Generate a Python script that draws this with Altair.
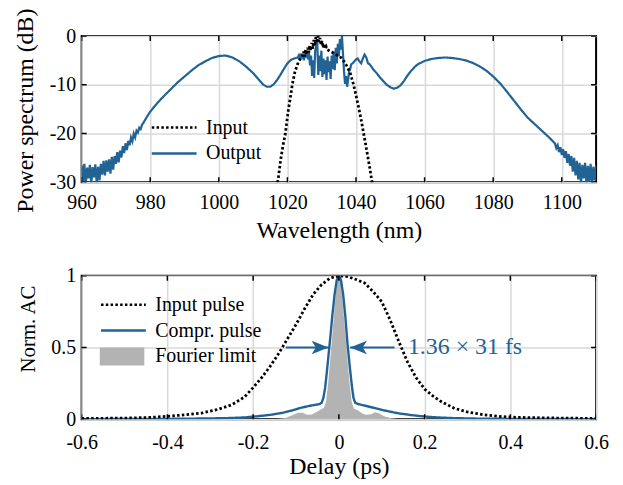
import altair as alt
import pandas as pd

SERIF = "Liberation Serif"
BLUE = "#216394"
GRAY = "#b3b3b3"

# ---------------- top panel data ----------------
wl_out = [
    960.0, 960.4, 960.8, 961.2, 961.6, 962.0, 962.4, 962.8, 963.2, 963.6,
    964.0, 964.4, 964.8, 965.2, 965.6, 966.0, 966.4, 966.8, 967.2, 967.6,
    968.0, 968.4, 968.8, 969.2, 969.6, 970.0, 970.4, 970.8, 971.2, 971.6,
    972.0, 972.4, 972.8, 973.2, 973.6, 974.0, 974.4, 974.8, 975.2, 975.6,
    976.0, 976.4, 976.8, 977.2, 977.6, 978.0, 979.0, 980.0, 982.0, 984.0,
    986.0, 988.0, 990.0, 992.0, 994.0, 996.0, 998.0, 1000.0, 1002.0, 1004.0,
    1006.0, 1008.0, 1010.0, 1012.0, 1013.0, 1014.0, 1015.0, 1016.0, 1017.0, 1018.0,
    1019.0, 1020.0, 1021.0, 1022.0, 1023.0, 1023.3, 1023.6, 1023.9, 1024.2, 1024.5,
    1024.8, 1025.1, 1025.4, 1025.7, 1026.0, 1026.3, 1026.6, 1026.9, 1027.2, 1027.5,
    1027.8, 1028.1, 1028.4, 1028.7, 1029.0, 1029.3, 1029.6, 1029.9, 1030.2, 1030.5,
    1030.8, 1031.1, 1031.4, 1031.7, 1032.0, 1032.3, 1032.6, 1032.9, 1033.2, 1033.5,
    1033.8, 1034.1, 1034.4, 1034.7, 1035.0, 1035.3, 1035.6, 1035.9, 1036.2, 1036.5,
    1036.8, 1037.1, 1037.4, 1037.7, 1038.0, 1038.3, 1038.6, 1039.0, 1039.5, 1040.0,
    1040.5, 1041.0, 1041.5, 1042.0, 1042.5, 1043.0, 1043.5, 1044.0, 1045.0, 1046.0,
    1047.0, 1048.0, 1049.0, 1050.0, 1051.0, 1052.0, 1053.0, 1054.0, 1055.0, 1056.0,
    1057.0, 1058.0, 1060.0, 1062.0, 1064.0, 1066.0, 1068.0, 1070.0, 1072.0, 1074.0,
    1076.0, 1078.0, 1080.0, 1082.0, 1084.0, 1086.0, 1088.0, 1090.0, 1092.0, 1094.0,
    1096.0, 1098.0, 1098.4, 1098.8, 1099.2, 1099.6, 1100.0, 1100.4, 1100.8, 1101.2,
    1101.6, 1102.0, 1102.4, 1102.8, 1103.2, 1103.6, 1104.0, 1104.4, 1104.8, 1105.2,
    1105.6, 1106.0, 1106.4, 1106.8, 1107.2, 1107.6, 1108.0, 1108.4, 1108.8, 1109.2,
    1109.6, 1110.0,
]
db_out = [
    -26.5, -29.8, -26.2, -30.5, -27.0, -29.2, -26.4, -30.4, -26.9, -29.0,
    -26.3, -30.3, -26.8, -29.6, -26.2, -28.4, -25.6, -28.6, -25.5, -27.8,
    -25.3, -28.2, -24.8, -27.4, -24.6, -26.2, -23.8, -25.9, -23.5, -24.9,
    -22.6, -24.0, -22.0, -23.4, -21.5, -22.4, -20.8, -21.6, -20.0, -20.8,
    -19.4, -19.8, -18.8, -19.1, -18.2, -17.8, -16.6, -15.5, -13.8, -12.3,
    -10.9, -9.5, -8.3, -7.1, -6.0, -5.2, -4.5, -4.1, -4.0, -4.4,
    -5.2, -6.3, -7.6, -9.2, -10.0, -10.4, -10.4, -9.9, -9.0, -7.9,
    -6.7, -5.6, -4.9, -4.6, -4.4, -4.0, -4.8, -3.6, -4.6, -3.8,
    -5.0, -3.6, -4.4, -3.2, -4.8, -3.4, -6.0, -4.0, -8.2, -5.0,
    -8.6, -3.0, -2.0, -1.2, -8.0, -4.0, -7.2, -3.0, -8.4, -4.6,
    -7.8, -5.0, -9.0, -4.2, -7.4, -5.2, -8.8, -4.0, -6.8, -3.2,
    -7.0, -2.4, -5.6, -1.6, -4.2, -0.6, -2.8, 0.0, -3.6, -7.2,
    -9.8, -8.2, -10.4, -9.0, -7.2, -6.8, -5.8, -5.6, -5.2, -4.8,
    -4.6, -5.2, -5.6, -4.6, -3.8, -4.4, -5.6, -5.8, -6.8, -7.6,
    -8.5, -9.3, -10.0, -10.5, -10.8, -10.6, -10.1, -9.2, -8.1, -7.2,
    -6.4, -5.8, -5.1, -4.7, -4.5, -4.4, -4.5, -4.7, -5.0, -5.5,
    -6.2, -7.1, -8.3, -9.7, -11.4, -13.2, -15.0, -16.7, -18.0, -19.3,
    -20.6, -22.0, -23.0, -22.4, -23.8, -22.8, -24.4, -23.2, -25.0, -23.6,
    -26.0, -24.2, -26.6, -24.6, -27.8, -25.0, -28.6, -25.6, -29.4, -26.0,
    -30.4, -26.4, -29.2, -26.0, -30.5, -26.6, -29.8, -26.2, -30.4, -26.8,
    -29.6, -26.5,
]

wl_in = [
    1016.8, 1017.3, 1018.0, 1018.7, 1019.4, 1020.2, 1021.0, 1021.4, 1022.2, 1023.2,
    1024.4, 1024.7, 1025.0, 1025.3, 1025.6, 1025.9, 1026.2, 1026.5, 1026.8, 1027.1,
    1027.4, 1027.7, 1028.0, 1028.3, 1028.6, 1028.9, 1029.2, 1029.5, 1029.8, 1030.1,
    1030.4, 1030.7, 1031.0, 1031.3, 1031.6, 1032.2, 1033.2, 1034.4, 1035.6, 1036.6,
    1037.6, 1038.4, 1039.1, 1039.9, 1040.6, 1041.4, 1042.1, 1042.8, 1043.5, 1044.0,
    1044.5, 1044.8,
]
db_in = [
    -31.0, -29.4, -25.5, -22.5, -20.0, -15.5, -12.0, -10.0, -7.3, -5.3,
    -4.0, -3.2, -4.2, -2.8, -3.8, -2.4, -3.4, -2.0, -3.0, -1.4,
    -2.6, -0.8, -2.0, -0.2, -1.4, 0.0, -1.2, -0.4, -1.8, -1.0,
    -2.4, -1.6, -2.6, -2.2, -2.8, -3.0, -3.4, -3.9, -4.4, -5.3,
    -6.5, -7.8, -9.5, -11.8, -14.1, -16.8, -19.5, -22.2, -25.0, -27.0,
    -29.2, -30.5,
]

top_series = ["Input", "Output"]
wl_ticks = [960, 980, 1000, 1020, 1040, 1060, 1080, 1100]
db_ticks = [-30, -20, -10, 0]

# ---------------- bottom panel data ----------------
d_in = [
    -0.60, -0.50, -0.44, -0.40, -0.36, -0.32, -0.28, -0.25, -0.22, -0.20,
    -0.18, -0.16, -0.14, -0.12, -0.10, -0.08, -0.06, -0.04, -0.02, 0.00,
    0.02, 0.04, 0.06, 0.08, 0.10, 0.12, 0.14, 0.16, 0.18, 0.20,
    0.22, 0.24, 0.27, 0.30, 0.34, 0.38, 0.42, 0.50, 0.60,
]
v_in = [
    0.005, 0.007, 0.012, 0.02, 0.03, 0.042, 0.07, 0.10, 0.155, 0.22,
    0.29, 0.37, 0.46, 0.56, 0.66, 0.77, 0.87, 0.94, 0.985, 1.0,
    0.995, 0.975, 0.95, 0.89, 0.82, 0.69, 0.54, 0.40, 0.29, 0.21,
    0.16, 0.12, 0.075, 0.05, 0.03, 0.018, 0.012, 0.008, 0.005,
]

d_cp = [
    -0.60, -0.40, -0.30, -0.25, -0.22, -0.19, -0.16, -0.13, -0.11, -0.09,
    -0.07, -0.055, -0.045, -0.04, -0.036, -0.032, -0.028, -0.024, -0.02, -0.015,
    -0.01, -0.005, 0.0, 0.005, 0.01, 0.015, 0.02, 0.025, 0.03, 0.034,
    0.038, 0.045, 0.06, 0.08, 0.10, 0.12, 0.14, 0.17, 0.20, 0.23,
    0.27, 0.32, 0.40, 0.60,
]
v_cp = [
    0.0, 0.002, 0.005, 0.008, 0.012, 0.02, 0.03, 0.045, 0.06, 0.078,
    0.092, 0.10, 0.105, 0.115, 0.15, 0.22, 0.33, 0.45, 0.57, 0.73,
    0.87, 0.97, 1.0, 0.97, 0.87, 0.72, 0.53, 0.38, 0.24, 0.15,
    0.115, 0.105, 0.095, 0.08, 0.065, 0.052, 0.04, 0.028, 0.018, 0.012,
    0.007, 0.004, 0.002, 0.0,
]

d_fl = [
    -0.60, -0.15, -0.125, -0.11, -0.095, -0.085, -0.075, -0.065, -0.055, -0.045,
    -0.035, -0.03, -0.025, -0.02, -0.015, -0.01, -0.005, 0.0, 0.005, 0.01,
    0.015, 0.02, 0.025, 0.03, 0.035, 0.045, 0.055, 0.063, 0.075, 0.085,
    0.095, 0.105, 0.12, 0.14, 0.60,
]
v_fl = [
    0.0, 0.0, 0.008, 0.025, 0.045, 0.045, 0.032, 0.03, 0.045, 0.062,
    0.08, 0.12, 0.25, 0.42, 0.6, 0.78, 0.94, 1.0, 0.94, 0.78,
    0.6, 0.42, 0.25, 0.12, 0.075, 0.06, 0.04, 0.03, 0.035, 0.048,
    0.04, 0.02, 0.008, 0.0, 0.0,
]

line_series = ["Input pulse", "Compr. pulse"]
area_series = ["Fourier limit"]
delay_ticks = [-0.6, -0.4, -0.2, 0, 0.2, 0.4, 0.6]
ac_ticks = [0, 0.5, 1]

# annotation (FWHM arrows)
arrow_tail = [-0.124, 0.13]
arrow_tip = [-0.024, 0.026]
arrow_angle = [0, 180]
arrow_level = [0.5, 0.5]
label_x = [0.161]
label_y = [0.5]
label_text = ["1.36 \u00d7 31 fs"]

# ---------------- build ----------------
W = 517
H_TOP = 147
H_BOT = 144
TICK_LEN = 10  # half of it lies outside the frame and is clipped
ROW = 26


def legend(x, y, **extra):
    kw = dict(
        orient="none", legendX=x, legendY=y, title=None, symbolType="stroke",
        symbolSize=2025, symbolStrokeWidth=2.5, labelFont=SERIF, labelFontSize=20,
        labelColor="black", labelOffset=8, rowPadding=ROW - 20, padding=0,
        clipHeight=20, labelLimit=300,
    )
    kw.update(extra)
    return alt.Legend(**kw)


def inner_ticks(xvals, yvals, xf, yf, w, h):
    """Short inward ticks on all four sides of the frame."""
    dx = pd.DataFrame({xf: xvals})
    dy = pd.DataFrame({yf: yvals})
    out = []
    for yv in (0, h):
        out.append(alt.Chart(dx).mark_tick(orient="vertical", size=TICK_LEN, thickness=1.5,
                                           color="black", opacity=1, clip=True)
                   .encode(x=alt.X(f"{xf}:Q"), y=alt.value(yv)))
    for xv in (0, w):
        out.append(alt.Chart(dy).mark_tick(orient="horizontal", size=TICK_LEN, thickness=1.5,
                                           color="black", opacity=1, clip=True)
                   .encode(y=alt.Y(f"{yf}:Q"), x=alt.value(xv)))
    return out


df_out = pd.DataFrame({"wl": wl_out, "db": db_out, "series": "Output"})
df_in = pd.DataFrame({"wl": wl_in, "db": db_in, "series": "Input"})

x_top = alt.X(
    "wl:Q", scale=alt.Scale(domain=[960, 1110], nice=False, zero=False),
    axis=alt.Axis(values=wl_ticks, title="Wavelength (nm)", labelExpr="'' + datum.value",
                  labelPadding=10, titleY=36, titleBaseline="top"),
)
y_top = alt.Y(
    "db:Q", scale=alt.Scale(domain=[-30, 0], nice=False, zero=False),
    axis=alt.Axis(values=db_ticks, title="Power spectrum (dB)", labelExpr="'' + datum.value",
                  labelPadding=6, titleX=-49, titleY=H_TOP / 2 + 1, titleBaseline="alphabetic"),
)
lt = legend(69, 82)
c_top = alt.Color("series:N", scale=alt.Scale(domain=top_series, range=["black", BLUE]), legend=lt)
sd_top = alt.StrokeDash("series:N", scale=alt.Scale(domain=top_series, range=[[2.5, 2.3], [1, 0]]), legend=lt)

top_out = alt.Chart(df_out).mark_line(clip=True, strokeWidth=2.2).encode(x=x_top, y=y_top, color=c_top, strokeDash=sd_top)
top_in = alt.Chart(df_in).mark_line(clip=True, strokeWidth=2.8).encode(x=x_top, y=y_top, color=c_top, strokeDash=sd_top)
top = alt.layer(
    top_out, top_in, *inner_ticks(wl_ticks, db_ticks, "wl", "db", W, H_TOP)
).properties(width=W, height=H_TOP)

df_b_in = pd.DataFrame({"d": d_in, "v": v_in, "series": "Input pulse"})
df_b_cp = pd.DataFrame({"d": d_cp, "v": v_cp, "series": "Compr. pulse"})
df_b_fl = pd.DataFrame({"d": d_fl, "v": v_fl, "series": "Fourier limit"})

x_bot = alt.X(
    "d:Q", scale=alt.Scale(domain=[-0.6, 0.6], nice=False, zero=False),
    axis=alt.Axis(values=delay_ticks, title="Delay (ps)", labelExpr="'' + datum.value",
                  labelPadding=14, titleY=36, titleBaseline="top"),
)
y_bot = alt.Y(
    "v:Q", scale=alt.Scale(domain=[0, 1], nice=False),
    axis=alt.Axis(values=ac_ticks, title="Norm. AC", labelExpr="'' + datum.value",
                  labelPadding=6, titleX=-47, titleY=53, titleBaseline="alphabetic",
                  titleFontSize=21),
)
lb = legend(18, 19)
lf = legend(18, 19 + 2 * ROW, symbolType="M-1,-0.4H1V0.4H-1Z", symbolStrokeWidth=0,
            symbolOpacity=1, labelOffset=11)
c_bot = alt.Color("series:N", scale=alt.Scale(domain=line_series, range=["black", BLUE]), legend=lb)
sd_bot = alt.StrokeDash("series:N", scale=alt.Scale(domain=line_series, range=[[2.5, 2.3], [1, 0]]), legend=lb)
f_bot = alt.Fill("series:N", scale=alt.Scale(domain=area_series, range=[GRAY]), legend=lf)

b_fl = alt.Chart(df_b_fl).mark_area(clip=True, opacity=1).encode(x=x_bot, y=y_bot, fill=f_bot)
b_cp = alt.Chart(df_b_cp).mark_line(clip=True, strokeWidth=2.4).encode(x=x_bot, y=y_bot, color=c_bot, strokeDash=sd_bot)
b_in = alt.Chart(df_b_in).mark_line(clip=True, strokeWidth=2.8).encode(x=x_bot, y=y_bot, color=c_bot, strokeDash=sd_bot)

df_arrow = pd.DataFrame({"tail": arrow_tail, "tip": arrow_tip, "ang": arrow_angle, "lvl": arrow_level})
arrow_lines = alt.Chart(df_arrow).mark_rule(color=BLUE, strokeWidth=2).encode(
    x=alt.X("tail:Q"), x2="tip:Q", y=alt.Y("lvl:Q"))
arrow_heads = alt.Chart(df_arrow).mark_point(
    shape="M0,0L-1,-0.4L-0.75,0L-1,0.4Z", filled=True, color=BLUE, opacity=1, size=1156
).encode(x=alt.X("tip:Q"), y=alt.Y("lvl:Q"), angle=alt.Angle("ang:Q", scale=None))
df_lab = pd.DataFrame({"x": label_x, "y": label_y, "t": label_text})
ann_text = alt.Chart(df_lab).mark_text(
    align="left", baseline="middle", font=SERIF, fontSize=24, color=BLUE
).encode(x=alt.X("x:Q"), y=alt.Y("y:Q"), text="t:N")

bottom = alt.layer(
    b_fl, b_cp, b_in, arrow_lines, arrow_heads, ann_text,
    *inner_ticks(delay_ticks, ac_ticks, "d", "v", W, H_BOT)
).properties(width=W, height=H_BOT)

chart = alt.vconcat(top, bottom, spacing=22).resolve_scale(
    color="independent", strokeDash="independent", fill="independent"
).resolve_legend(
    color="independent", strokeDash="independent", fill="independent"
).properties(
    padding={"left": 5, "top": -3, "right": 5, "bottom": 5}, background="white"
).configure_view(
    stroke="black", strokeWidth=2
).configure_axis(
    domain=False, ticks=False, tickSize=0, grid=True, gridColor="#d9d9d9", gridWidth=1.5,
    labelFont=SERIF, labelFontSize=20, labelColor="black", labelFlush=False, labelOverlap=False,
    titleFont=SERIF, titleFontSize=24, titleFontWeight="normal", titleColor="black",
)

chart.save("out.html", embed_options={"renderer": "svg", "actions": False})
